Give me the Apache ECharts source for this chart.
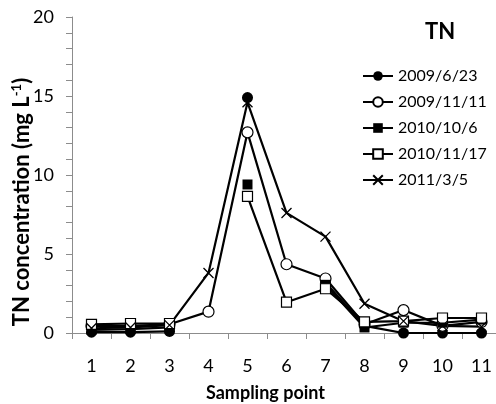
<!DOCTYPE html>
<html>
<head>
<meta charset="utf-8">
<script src="https://cdn.jsdelivr.net/npm/echarts@6/dist/echarts.min.js"></script>
<style>
html,body{margin:0;padding:0;background:#fff;}
#chart{width:496px;height:404px;}
</style>
</head>
<body>
<div id="chart"></div>
<script>
var categories = ['1','2','3','4','5','6','7','8','9','10','11'];
var seriesNames = ['2009/6/23','2009/11/11','2010/10/6','2010/11/17','2011/3/5'];
var s20090623 = [0.05, 0.05, 0.1, null, 14.9, null, 3.2, 0.45, 0, 0, 0];
var s20091111 = [0.45, 0.45, 0.55, 1.35, 12.7, 4.35, 3.45, 0.55, 1.45, 0.45, 0.7];
var s20101006 = [0.2, 0.25, 0.35, null, 9.4, null, 3.05, 0.35, 0.65, 0.65, 0.85];
var s20101117 = [0.55, 0.6, 0.6, null, 8.65, 1.95, 2.8, 0.7, 0.75, 0.95, 0.95];
var s20110305 = [0.3, 0.35, 0.5, 3.8, 14.6, 7.6, 6.1, 1.85, 0.75, 0.45, 0.4];
var yTicks = [0, 5, 10, 15, 20];

var FONT = 'Lato';
var axisGray = '#8c8c8c';

function mk(name, data, symbol, size, fill, stroke, bw) {
  return {
    name: name, type: 'line', data: data,
    symbol: symbol, symbolSize: size, showAllSymbol: true,
    connectNulls: false,
    lineStyle: {color: '#000', width: 2.2},
    itemStyle: {color: fill, borderColor: stroke, borderWidth: bw},
    emphasis: {disabled: true},
    z: 2
  };
}

var chart = echarts.init(document.getElementById('chart'), null, {renderer: 'canvas'});
chart.setOption({
  animation: false,
  backgroundColor: '#fff',
  title: {
    text: 'TN', left: 425, top: 21, padding: 0,
    textStyle: {fontFamily: FONT, fontSize: 22, fontWeight: 'bold', color: '#000'}
  },
  legend: {
    orient: 'vertical', left: 362, top: 67, padding: 0,
    itemWidth: 30, itemHeight: 12, itemGap: 8,
    data: seriesNames,
    textStyle: {fontFamily: FONT, fontSize: 16, color: '#000', lineHeight: 18},
    selectedMode: false
  },
  grid: {left: 72, top: 17, width: 429, height: 316, containLabel: false, outerBoundsMode: 'none'},
  xAxis: {
    type: 'category', data: categories, boundaryGap: true,
    axisLine: {lineStyle: {color: axisGray, width: 1}},
    axisTick: {show: true, length: 6, interval: 0, lineStyle: {color: axisGray}},
    axisLabel: {fontFamily: FONT, fontSize: 18, color: '#000', margin: 24, interval: 0},
    name: 'Sampling point', nameLocation: 'middle', nameGap: 51, nameMoveOverlap: false,
    nameTextStyle: {fontFamily: FONT, fontSize: 18, fontWeight: 'bold', color: '#000', padding: [0, 42, 0, 0]},
    splitLine: {show: false}
  },
  yAxis: {
    type: 'value', min: yTicks[0], max: yTicks[yTicks.length-1], interval: 5,
    axisLine: {show: true, lineStyle: {color: axisGray, width: 1}},
    axisTick: {show: true, length: 6, lineStyle: {color: axisGray}},
    minorTick: {show: true, splitNumber: 5, length: 6, lineStyle: {color: axisGray}},
    axisLabel: {fontFamily: FONT, fontSize: 18, color: '#000', margin: 18},
    splitLine: {show: false},
    name: '{a|TN concentration (mg L}{s|-1}{a|)}',
    nameLocation: 'middle', nameGap: 39, nameRotate: 90, nameMoveOverlap: false,
    nameTextStyle: {
      padding: [0, 54, 0, 0],
      rich: {
        a: {fontFamily: FONT, fontSize: 22, fontWeight: 'bold', color: '#000'},
        s: {fontFamily: FONT, fontSize: 13, fontWeight: 'bold', color: '#000', verticalAlign: 'top', padding: [0,0,10,0]}
      }
    }
  },
  series: [
    mk(seriesNames[0], s20090623, 'circle', 11, '#000', '#000', 0),
    mk(seriesNames[1], s20091111, 'circle', 11, '#fff', '#000', 1.2),
    mk(seriesNames[2], s20101006, 'rect', 10, '#000', '#000', 0),
    mk(seriesNames[3], s20101117, 'rect', 10, '#fff', '#000', 1.2),
    mk(seriesNames[4], s20110305, 'path://M0,0L10,10M0,10L10,0', 10, 'rgba(0,0,0,0)', '#000', 1.3)
  ]
});
</script>
</body>
</html>
